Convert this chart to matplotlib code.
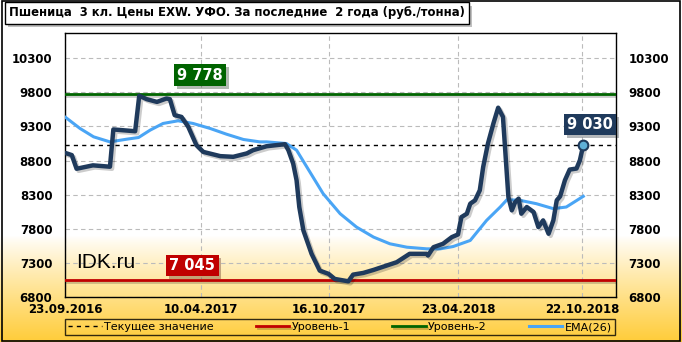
import numpy as np
import matplotlib
matplotlib.use("Agg")
import matplotlib.pyplot as plt
import matplotlib.patheffects as pe
from matplotlib.patches import Rectangle

plt.rcParams['font.family'] = ['DejaVu Sans']

start = np.datetime64('2016-09-23')

# price line: day offsets from 23.09.2016 and price (rub/t)
price_days = [1, 10, 17, 41, 66, 71, 103, 109, 120, 135, 149, 154, 161, 171, 181,
              193, 203, 228, 247, 267, 276, 296, 323, 328, 335, 340, 344, 350,
              362, 374, 387, 396, 416, 423, 438, 453, 472, 487, 506, 531, 533,
              541, 555, 568, 577, 582, 590, 595, 602, 609, 614, 621, 629, 636,
              643, 647, 651, 656, 661, 666, 670, 678, 688, 695, 702, 710, 717,
              722, 727, 734, 741, 751, 756, 761]
price_vals = [8910, 8880, 8680, 8730, 8710, 9256, 9230, 9750, 9700, 9660, 9710,
              9700, 9466, 9440, 9294, 9025, 8927, 8865, 8855, 8905, 8952, 9010,
              9040, 8952, 8756, 8511, 8118, 7776, 7433, 7187, 7139, 7065, 7030,
              7128, 7153, 7197, 7260, 7310, 7433, 7433, 7408, 7530, 7580, 7678,
              7717, 7971, 8021, 8168, 8217, 8364, 8707, 9050, 9344, 9575, 9441,
              8854, 8266, 8070, 8192, 8242, 8021, 8119, 8046, 7825, 7923, 7727,
              7923, 8217, 8276, 8511, 8668, 8683, 8805, 9030]

ema_days = [1, 22, 42, 66, 91, 108, 125, 144, 166, 188, 213, 237, 262, 286, 296,
            325, 340, 355, 379, 404, 428, 453, 477, 502, 531, 551, 570, 595, 619,
            639, 649, 668, 692, 717, 736, 761]
ema_vals = [9432, 9271, 9148, 9074, 9114, 9138, 9246, 9344, 9383, 9344, 9271,
            9187, 9109, 9074, 9074, 9050, 8952, 8707, 8315, 8021, 7825, 7678,
            7580, 7530, 7506, 7506, 7540, 7629, 7923, 8119, 8227, 8217, 8168,
            8095, 8119, 8276]

current = 9030
level1 = 7045
level2 = 9778

tick_dates = ['2016-09-23', '2017-04-10', '2017-10-16', '2018-04-23', '2018-10-22']
tick_labels = ['23.09.2016', '10.04.2017', '16.10.2017', '23.04.2018', '22.10.2018']
yticks = [6800, 7300, 7800, 8300, 8800, 9300, 9800, 10300]

title = 'Пшеница  3 кл. Цены EXW. УФО. За последние  2 года (руб./тонна)'

price_x = start + np.array(price_days).astype('timedelta64[D]')
ema_x = start + np.array(ema_days).astype('timedelta64[D]')

fig = plt.figure(figsize=(6.82, 3.42), dpi=100)

# background gradient
bg = fig.add_axes([0, 0, 1, 1], zorder=-10)
h = 342
yy = np.arange(h)
t = np.clip((yy - 235) / (342 - 235), 0, 1) ** 0.9
top = np.array([1.0, 1.0, 1.0])
bot = np.array([1.0, 0.80, 0.22])
grad = (top[None, :] * (1 - t[:, None]) + bot[None, :] * t[:, None])[:, None, :]
bg.imshow(grad, aspect='auto', extent=[0, 1, 0, 1])
bg.axis('off')

ax = fig.add_axes([65 / 682, 45 / 342, 551 / 682, 264 / 342])
ax.patch.set_alpha(0)

shadow = [pe.SimpleLineShadow(offset=(1.2, -1.2), alpha=0.2), pe.Normal()]

ax.axhline(current, color='black', lw=1, ls=(0, (3, 3)), zorder=3,
           label='Текущее значение')
ax.axhline(level1, color='#c00000', lw=2, zorder=3, path_effects=shadow,
           label='Уровень-1')
ax.axhline(level2, color='#006400', lw=2, zorder=3, path_effects=shadow,
           label='Уровень-2')
ax.plot(ema_x, ema_vals, color='#4aa5f5', lw=2.2, zorder=4,
        solid_joinstyle='round', label='EMA(26)')
ax.plot(price_x, price_vals, color='#1f3a5c', lw=3.2, zorder=5,
        solid_joinstyle='round', solid_capstyle='round',
        path_effects=[pe.SimpleLineShadow(offset=(1.5, -1.5), alpha=0.2), pe.Normal()])
ax.plot(price_x[-1], price_vals[-1], 'o', ms=7, mfc='#5fb0d8', mec='#1f3a5c',
        mew=1.5, zorder=6)

ax.set_ylim(6800, 10670)
ax.set_xlim(start, start + np.timedelta64(809, 'D'))
ax.set_yticks(yticks)
ax.set_xticks([np.datetime64(d) for d in tick_dates])
ax.set_xticklabels(tick_labels)
ax.tick_params(length=0, labelsize=8.5, labelright=True, pad=9)
for lbl in ax.get_xticklabels() + ax.get_yticklabels():
    lbl.set_fontweight('bold')
ax.tick_params(axis='x', pad=4)
ax.grid(True, color='#bbbbbb', ls=(0, (4, 3)), lw=0.8)
for s in ax.spines.values():
    s.set_linewidth(1)
    s.set_color('black')

def box_label(x, y, txt, fc):
    tt = ax.text(x, y, txt, color='white', fontsize=10.5, fontweight='bold',
                 ha='center', va='center', zorder=8,
                 bbox=dict(boxstyle='square,pad=0.22', fc=fc, ec='none'))
    tt.get_bbox_patch().set_path_effects([pe.withSimplePatchShadow(offset=(2, -2), alpha=0.3)])

box_label(start + np.timedelta64(198, 'D'), 10054, '9 778', '#006400')
box_label(start + np.timedelta64(187, 'D'), 7261, '7 045', '#c00000')
box_label(start + np.timedelta64(771, 'D'), 9327, '9 030', '#1f3a5c')

ax.text(start + np.timedelta64(16, 'D'), 7300, 'IDK.ru', fontsize=15,
        family='Liberation Sans', va='center', ha='left', zorder=8)

ttl = fig.text(0.013, 0.962, title, fontsize=8.4, fontweight='bold', va='center',
               ha='left', bbox=dict(boxstyle='square,pad=0.35', fc='white', ec='black', lw=1))
ttl.get_bbox_patch().set_path_effects([pe.withSimplePatchShadow(offset=(2.5, -2.5), alpha=0.35)])

leg = fig.legend(loc='center', bbox_to_anchor=(340 / 682, 1 - 327 / 342), ncol=4,
                 fontsize=8, frameon=True, fancybox=False, handlelength=3.0,
                 columnspacing=3.8, borderpad=0.3, handletextpad=0.2)
leg.get_frame().set_edgecolor('black')
leg.get_frame().set_facecolor('none')
leg.get_frame().set_linewidth(1)

fig.patches.append(Rectangle((0.003, 0.003), 0.994, 0.994, transform=fig.transFigure,
                             fill=False, ec='black', lw=1.2, zorder=20))

fig.savefig('out.png', dpi=100)
